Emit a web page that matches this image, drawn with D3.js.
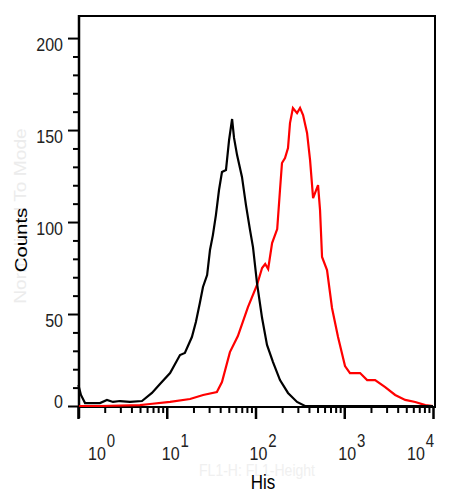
<!DOCTYPE html>
<meta charset="utf-8">

<!-- Load d3.js -->
<script src="https://d3js.org/d3.v7.min.js"></script>

<style>
  body { margin: 0; background: #fff; }
  text { font-family: "Liberation Sans", Arial, sans-serif; }
</style>

<!-- Create a div where the graph will take place -->
<div id="my_dataviz"></div>

<script>

// isotype control (black) - fluorescence / counts
var controlX = [1.01, 1.08, 1.20, 1.44, 1.77, 2.12, 2.48, 2.97, 3.85, 5.26, 6.81, 8.39, 10.9, 14.1, 16.0, 19.2, 21.3, 23.6, 25.6, 28.5, 30.7, 33.1, 35.8, 38.8, 41.9, 46.5, 50.4, 54.5, 57.3, 62.0, 70.4, 78.1, 86.7, 93.7, 104, 118.6, 134.8, 157.5, 188.8, 232.4, 293.9, 361, 531, 10000];
var controlY = [11.4, 6, 1.6, 1.6, 1.6, 3.3, 2.2, 2.7, 2.2, 2.7, 7.1, 12, 17.9, 27.7, 28.8, 37.5, 45.7, 56, 64.7, 71.2, 84.8, 92.9, 103.8, 117.4, 127.2, 128.3, 144.6, 156, 145.7, 136.4, 124.5, 109.2, 95.7, 86.4, 66.8, 47.8, 33.2, 23.9, 14.1, 7.1, 2.2, 0, 0, 0];

// stained sample (red)
var sampleX = [1.03, 1.77, 5.0, 6.47, 10.9, 18.3, 25.7, 36.7, 41.9, 51.5, 63.3, 82.2, 104, 118.6, 128.6, 138.9, 153.8, 175.6, 188.8, 198.8, 215, 232.4, 244.7, 264, 294, 317.8, 343.6, 381, 412, 445.6, 506.8, 533.6, 562.1, 639.6, 727.9, 850.9, 1020, 1160, 1507, 1811, 2228, 2891, 3749, 4863, 6310, 8185, 10000];
var sampleY = [0, 0, 0.5, 1.1, 2.2, 3.8, 6, 7.6, 13, 29.3, 38, 53.8, 65.8, 75, 77.2, 74.5, 88.6, 96.2, 117.4, 132.1, 134.8, 140.2, 153.8, 162, 159.2, 162, 158.2, 148.4, 133.7, 113, 120.1, 106.5, 81, 73.9, 53.3, 37.5, 21.7, 17.9, 17.9, 14.1, 14.1, 10.3, 6, 3.3, 2.2, 0.5, 0];

// axis ticks
var yTicks = [0, 50, 100, 150, 200];
var yMinorTicks = [10, 20, 30, 40, 60, 70, 80, 90, 110, 120, 130, 140, 160, 170, 180, 190];
var xTicks = [1, 10, 100, 1000, 10000];
var xExponents = ["0", "1", "2", "3", "4"];

var width = 461, height = 500;

var svg = d3.select("#my_dataviz")
  .append("svg")
    .attr("width", width)
    .attr("height", height);

// scales
var x = d3.scaleLog()
  .domain([1, 10000])
  .range([78, 433]);

var y = d3.scaleLinear()
  .domain([0, 212])
  .range([406, 16]);

// minor x ticks: 2..9 in every decade
var xMinorTicks = [];
xTicks.slice(0, -1).forEach(function(d) {
  d3.range(2, 10).forEach(function(k) { xMinorTicks.push(d * k) });
});

// Y axis (minor + major ticks)
svg.append("g")
  .attr("transform", "translate(79,0)")
  .call(d3.axisLeft(y).tickValues(yMinorTicks).tickSize(6).tickFormat(""))
  .call(function(g) { g.select(".domain").remove() })
  .selectAll("line").attr("stroke", "#000").attr("stroke-width", 2);

svg.append("g")
  .attr("transform", "translate(79,0)")
  .call(d3.axisLeft(y).tickValues(yTicks).tickSize(11).tickFormat(""))
  .call(function(g) { g.select(".domain").remove() })
  .selectAll("line").attr("stroke", "#000").attr("stroke-width", 2);

// X axis (minor + major ticks)
svg.append("g")
  .attr("transform", "translate(0,407)")
  .call(d3.axisBottom(x).tickValues(xMinorTicks).tickSize(6).tickFormat(""))
  .call(function(g) { g.select(".domain").remove() })
  .selectAll("line").attr("stroke", "#000").attr("stroke-width", 2);

svg.append("g")
  .attr("transform", "translate(0,407)")
  .call(d3.axisBottom(x).tickValues(xTicks).tickSize(12).tickFormat(""))
  .call(function(g) { g.select(".domain").remove() })
  .selectAll("line").attr("stroke", "#000").attr("stroke-width", 2.5);

// frame lines
svg.append("line").attr("x1", 79).attr("x2", 79).attr("y1", 15).attr("y2", 418)
  .attr("stroke", "#000").attr("stroke-width", 2.5);
svg.append("line").attr("x1", 78).attr("x2", 436).attr("y1", 407).attr("y2", 407)
  .attr("stroke", "#000").attr("stroke-width", 2);
svg.append("line").attr("x1", 78).attr("x2", 436).attr("y1", 16).attr("y2", 16)
  .attr("stroke", "#000").attr("stroke-width", 2);
svg.append("line").attr("x1", 435).attr("x2", 435).attr("y1", 16).attr("y2", 408)
  .attr("stroke", "#000").attr("stroke-width", 2);

// Y tick labels
svg.selectAll(".ylab")
  .data(yTicks)
  .enter()
  .append("text")
    .attr("class", "ylab")
    .attr("transform", function(d) { return "translate(63," + (y(d) + (d == 0 ? 2 : 13)) + ") scale(1,1.2)" })
    .attr("text-anchor", "end")
    .style("font-size", "16px")
    .attr("fill", "#222")
    .text(function(d) { return d });

// X tick labels (10 with superscript exponent)
var xLabelShift = [10, -5, -6, -6, -26];
var xlab = svg.selectAll(".xlab")
  .data(xTicks)
  .enter()
  .append("text")
    .attr("class", "xlab")
    .attr("transform", function(d, i) { return "translate(" + (x(d) + xLabelShift[i]) + ",460) scale(1,1.2)" })
    .style("font-size", "16px")
    .attr("fill", "#222");
xlab.append("tspan").text("10");
xlab.append("tspan")
  .attr("dx", 1)
  .attr("dy", -11)
  .style("font-size", "15px")
  .text(function(d, i) { return xExponents[i] });

// faint original axis titles
svg.append("text")
  .attr("transform", "translate(257,476) scale(1,1.15)")
  .attr("text-anchor", "middle")
  .style("font-size", "14px")
  .attr("fill", "#f0f0f0")
  .text("FL1-H: FL1-Height");

svg.append("text")
  .attr("transform", "translate(26,216) rotate(-90) scale(1.2,1)")
  .attr("text-anchor", "middle")
  .style("font-size", "16px")
  .attr("fill", "#ececec")
  .text("Normalized To Mode");

// axis titles
svg.append("text")
  .attr("transform", "translate(263,489) scale(1,1.15)")
  .attr("text-anchor", "middle")
  .style("font-size", "17px")
  .attr("fill", "#000")
  .text("His");

svg.append("text")
  .attr("transform", "translate(27,240) rotate(-90) scale(1.2,1)")
  .attr("text-anchor", "middle")
  .style("font-size", "17px")
  .attr("fill", "#000")
  .text("Counts");

// histogram lines
var line = d3.line()
  .x(function(d) { return x(d[0]) })
  .y(function(d) { return y(d[1]) });

svg.append("path")
  .datum(d3.zip(sampleX, sampleY))
  .attr("d", line)
  .attr("fill", "none")
  .attr("stroke", "#ff0000")
  .attr("stroke-width", 2.2);

svg.append("path")
  .datum(d3.zip(controlX, controlY))
  .attr("d", line)
  .attr("fill", "none")
  .attr("stroke", "#000")
  .attr("stroke-width", 2.2);

</script>
